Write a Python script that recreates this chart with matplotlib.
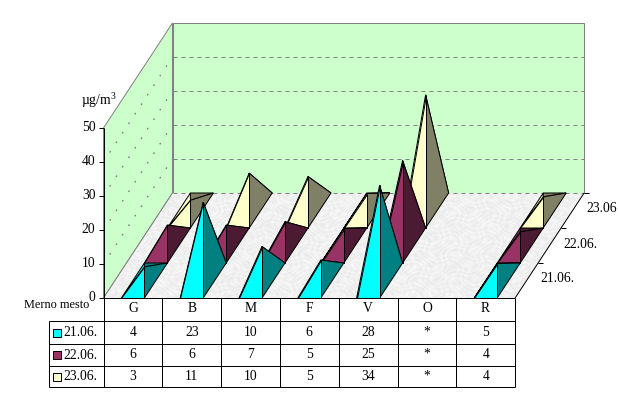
import numpy as np
import matplotlib
matplotlib.use("Agg")
import matplotlib.pyplot as plt
from matplotlib.patches import Polygon, Rectangle

plt.rcParams['font.family'] = ['Liberation Serif', 'DejaVu Sans']
plt.rcParams['mathtext.fontset'] = 'custom'
plt.rcParams['mathtext.rm'] = 'Liberation Serif'
plt.rcParams['lines.solid_capstyle'] = 'butt'

places = ["G", "B", "M", "F", "V", "O", "R"]
dates = ["21.06.", "22.06.", "23.06."]
depth_labels = ["21.06.", "22.06.", "23.06"]
val_21 = [4, 23, 10, 6, 28, None, 5]
val_22 = [6, 6, 7, 5, 25, None, 4]
val_23 = [3, 11, 10, 5, 34, None, 4]
series = [val_21, val_22, val_23]
y_ticks = [0, 10, 20, 30, 40, 50]

light = ["#00FFFF", "#993366", "#FFFFCC"]
dark = ["#008080", "#4D1A33", "#808066"]

# layout in pixels, the projection goes from chart units to these
x0, y0 = 103.5, 298.0
cat_w = 58.8
dep_x, dep_y = 23.0, -35.0
px_per_unit = 3.4
n_cat = len(places)
n_ser = len(series)
y_max = y_ticks[-1]
LW = 0.72
FS = 9.8


def proj(c, d, v=0.0):
  # c = category position, d = depth position, v = value
  return (x0 + c * cat_w + d * dep_x, y0 + d * dep_y - v * px_per_unit)


fig = plt.figure(figsize=(6.18, 3.93), dpi=100)
ax = fig.add_axes([0, 0, 1, 1])

GREY = "#808080"
WALL = "#CCFFCC"

# walls and floor
ax.add_patch(Polygon([proj(0, 0), proj(0, 0, y_max), proj(0, n_ser, y_max), proj(0, n_ser)],
                     fc=WALL, ec=GREY, lw=LW, zorder=1))
ax.add_patch(Polygon([proj(0, n_ser), proj(0, n_ser, y_max), proj(n_cat, n_ser, y_max), proj(n_cat, n_ser)],
                     fc=WALL, ec=GREY, lw=LW, zorder=1))

# marble look of the floor, only decoration
xx, yy = np.meshgrid(np.arange(618), np.arange(393))
marble = (np.sin(xx * 0.41 + np.sin(yy * 0.23) * 5) * np.sin(yy * 0.53 + np.sin(xx * 0.17) * 5)
          + 0.6 * np.sin(xx * 1.13 + np.sin(yy * 0.71) * 4) * np.sin(yy * 1.37 + np.sin(xx * 0.59) * 4))
floor_img = ax.imshow(240 + 6 * marble, cmap="gray", vmin=0, vmax=255, extent=(0, 618, 393, 0),
                      aspect="auto", interpolation="nearest", zorder=2)
floor = Polygon([proj(0, 0), proj(n_cat, 0), proj(n_cat, n_ser), proj(0, n_ser)], fc="none", ec="none",
                transform=ax.transData)
ax.add_patch(floor)
floor_img.set_clip_path(floor)
ax.set_xlim(0, 618)
ax.set_ylim(393, 0)
ax.axis("off")

a, b = proj(0, 0), proj(0, n_ser)
ax.plot([a[0], b[0]], [a[1], b[1]], color=GREY, lw=LW, zorder=3)

# gridlines
for t in y_ticks[:-1]:
  p1, p2, p3 = proj(0, 0, t), proj(0, n_ser, t), proj(n_cat, n_ser, t)
  if t > 0:
    ax.plot([p1[0], p2[0]], [p1[1], p2[1]], color=GREY, lw=1.0, ls=(0, (1.2, 7)), zorder=3)
  ax.plot([p2[0], p3[0]], [p2[1], p3[1]], color=GREY, lw=LW, ls=(0, (4, 4)), zorder=3)

# pyramids, back row first
half = 23.0 / cat_w / 2
for d in range(n_ser - 1, -1, -1):
  for c in range(n_cat):
    v = series[d][c]
    if v is None:
      continue
    cc = c + 0.5
    fl = proj(cc - half, d)
    fr = proj(cc + half, d)
    bl = proj(cc - half, d + 1)
    br = proj(cc + half, d + 1)
    top = proj(cc, d + 0.5, v)
    z = 10 + (n_ser - d) * 100 + c * 5
    ax.add_patch(Polygon([bl, br, top], fc=dark[d], ec="black", lw=LW, zorder=z))
    ax.add_patch(Polygon([fl, bl, top], fc=light[d], ec="black", lw=LW, zorder=z + 1))
    ax.add_patch(Polygon([fr, br, top], fc=dark[d], ec="black", lw=LW, zorder=z + 2))
    ax.add_patch(Polygon([fl, fr, top], fc=light[d], ec="black", lw=LW, zorder=z + 3))

# value axis
p1, p2 = proj(0, 0), proj(0, 0, y_max)
ax.plot([p1[0], p2[0]], [p1[1], p2[1]], color="black", lw=LW, zorder=900)
for t in y_ticks:
  p = proj(0, 0, t)
  ax.plot([p[0] - 4.5, p[0]], [p[1], p[1]], color="black", lw=LW, zorder=900)
  ax.text(p[0] - 8, p[1] - 0.5, str(t), ha="right", va="center", fontsize=FS, zorder=900)
ax.text(81, 100, r"µg/m$^{\mathrm{3}}$", ha="left", va="center", fontsize=FS, zorder=900)

# depth axis
p1, p2 = proj(n_cat, 0), proj(n_cat, n_ser)
ax.plot([p1[0], p2[0]], [p1[1], p2[1]], color="black", lw=LW, zorder=900)
for d in range(1, n_ser + 1):
  p = proj(n_cat, d)
  ax.plot([p[0], p[0] + 5], [p[1], p[1]], color="black", lw=LW, zorder=900)
for d, lab in enumerate(depth_labels):
  p = proj(n_cat, d)
  ax.text(p[0] + 25, p[1] - 19, lab, ha="left", va="center", fontsize=FS, zorder=900)

# data table
row_y = [298, 321, 344, 366, 387]
col_x = [proj(i, 0)[0] for i in range(n_cat + 1)]
left_x = 48.5
ax.plot([x0, col_x[-1]], [row_y[0], row_y[0]], color="black", lw=LW, zorder=950)
for y in row_y[1:]:
  ax.plot([left_x, col_x[-1]], [y, y], color="black", lw=LW, zorder=950)
for x in col_x:
  ax.plot([x, x], [row_y[0], row_y[-1]], color="black", lw=LW, zorder=950)
ax.plot([left_x, left_x], [row_y[1], row_y[-1]], color="black", lw=LW, zorder=950)
ax.text(24, 305, "Merno mesto", ha="left", va="center", fontsize=8.8, zorder=950)

for i, name in enumerate(places):
  xc = (col_x[i] + col_x[i + 1]) / 2
  ax.text(xc, 309, name, ha="center", va="center", fontsize=FS, zorder=950)
  for r in range(n_ser):
    v = series[r][i]
    s = "*" if v is None else str(v)
    yc = (row_y[r + 1] + row_y[r + 2]) / 2 - 0.5
    ax.text(xc, yc, s, ha="center", va="center", fontsize=FS, zorder=950)

for r, lab in enumerate(dates):
  yc = (row_y[r + 1] + row_y[r + 2]) / 2
  ax.add_patch(Rectangle((53, yc - 4), 8, 8, fc=light[r], ec="black", lw=LW, zorder=950))
  ax.text(63, yc + 0.5, lab, ha="left", va="center", fontsize=FS, zorder=950)

plt.savefig("out.png", dpi=100)
